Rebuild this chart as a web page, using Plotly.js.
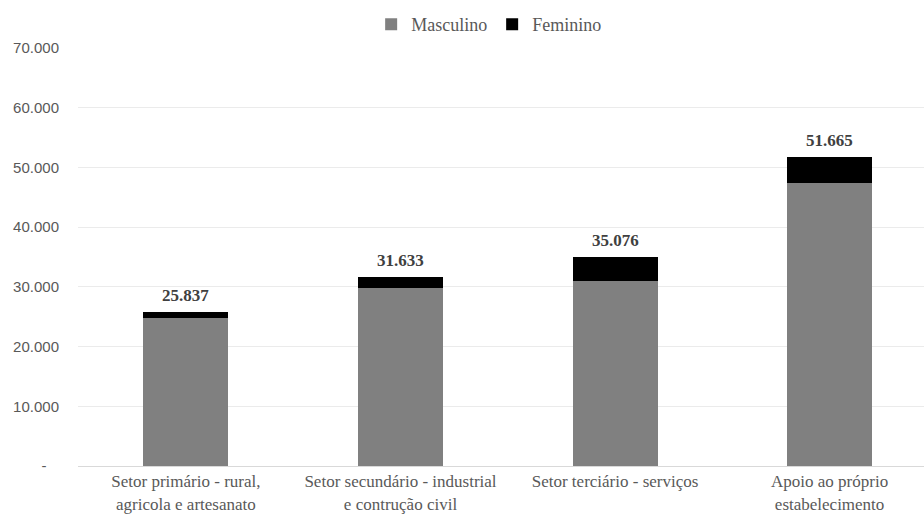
<!DOCTYPE html>
<html>
<head>
<meta charset="utf-8">
<script src="https://cdn.plot.ly/plotly-3.0.1.min.js"></script>
<style>
  html, body { margin: 0; padding: 0; background: #fff; }
  #chart { width: 924px; height: 515px; }
</style>
</head>
<body>
<div id="chart"></div>
<script>
// Setores de atividade
const categories = [
  'Setor primário - rural,<br>agricola e artesanato',
  'Setor secundário - industrial<br>e contrução civil',
  'Setor terciário - serviços',
  'Apoio ao próprio<br>estabelecimento'
];
// Total por setor (rótulos acima das barras)
const totals = [25837, 31633, 35076, 51665];
// Parcela masculina
const masculino = [24750, 29750, 30900, 47400];
// Parcela feminina = total - masculino
const feminino = totals.map((t, i) => t - masculino[i]);

// Eixo Y em formato contábil: zero aparece como traço
const yTickVals = [0, 10000, 20000, 30000, 40000, 50000, 60000, 70000];
const yTickText = ['-\u00a0\u00a0\u00a0', '10.000', '20.000', '30.000', '40.000', '50.000', '60.000', '70.000'];
const totalLabels = ['25.837', '31.633', '35.076', '51.665'];

const xIdx = categories.map((_, i) => i);
const serif = 'Liberation Serif';
const sans = 'Liberation Sans';

const traces = [
  {
    type: 'bar', name: 'Masculino', x: xIdx, y: masculino,
    marker: { color: '#808080' }, width: 0.396, hoverinfo: 'skip'
  },
  {
    type: 'bar', name: 'Feminino', x: xIdx, y: feminino,
    marker: { color: '#000000' }, width: 0.396, hoverinfo: 'skip'
  }
];

const annotations = totals.map((t, i) => ({
  x: i, y: t, xref: 'x', yref: 'y',
  text: '<b>' + totalLabels[i] + '</b>',
  showarrow: false, yanchor: 'bottom', yshift: 5,
  font: { family: serif, size: 17, color: '#404040' }
}));

const layout = {
  width: 924, height: 515,
  font: { family: serif, size: 16, color: '#595959' },
  margin: { l: 78, r: 0, t: 48, b: 48.5 },
  paper_bgcolor: '#ffffff', plot_bgcolor: '#ffffff',
  barmode: 'stack',
  showlegend: true,
  legend: {
    orientation: 'h', traceorder: 'normal',
    x: 0.486, xanchor: 'center', y: 1.056, yanchor: 'middle',
    font: { family: serif, size: 18, color: '#595959' },
    itemwidth: 30
  },
  xaxis: {
    range: [-0.503, 3.44],
    tickvals: xIdx, ticktext: categories,
    showgrid: false, zeroline: false,
    showline: true, linecolor: '#d9d9d9', linewidth: 1,
    ticks: '', fixedrange: true,
    tickfont: { family: serif, size: 17, color: '#595959' }
  },
  yaxis: {
    range: [0, 70000],
    tickvals: yTickVals, ticktext: yTickText,
    showgrid: true, gridcolor: '#ebebeb', gridwidth: 1,
    zeroline: false, showline: false, ticks: '',
    ticklabelstandoff: 18, fixedrange: true,
    tickfont: { family: sans, size: 15, color: '#595959' }
  },
  annotations: annotations
};

Plotly.newPlot('chart', traces, layout, { displayModeBar: false, staticPlot: true });
</script>
</body>
</html>
